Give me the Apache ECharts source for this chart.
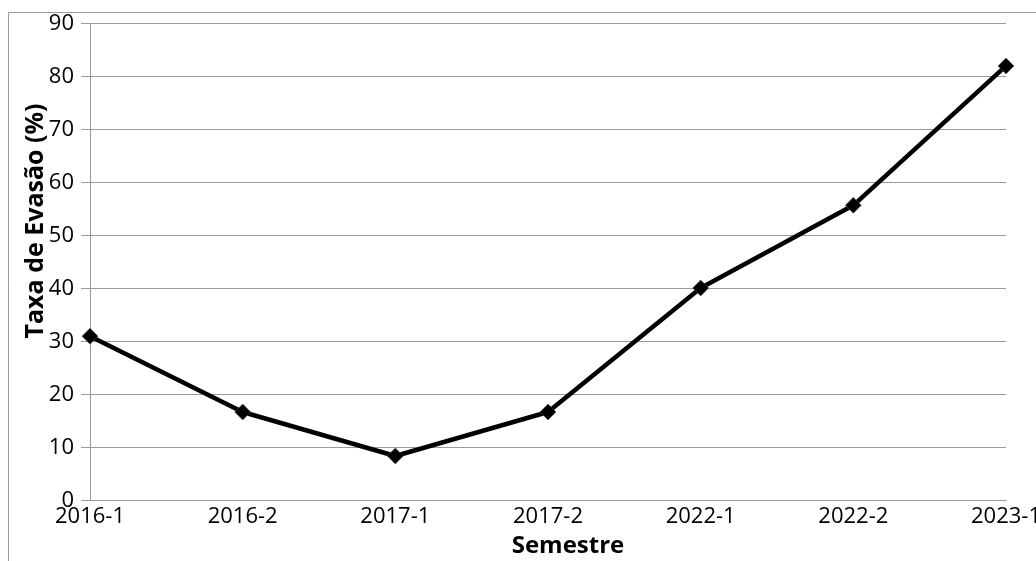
<!DOCTYPE html>
<html>
<head>
<meta charset="utf-8">
<script src="https://cdn.jsdelivr.net/npm/echarts@6/dist/echarts.min.js"></script>
<style>html,body{margin:0;padding:0;background:#fff}#c{width:1036px;height:561px}</style>
</head>
<body>
<div id="c"></div>
<script>
var categories = ['2016-1', '2016-2', '2017-1', '2017-2', '2022-1', '2022-2', '2023-1'];
var evasao = [31.0, 16.7, 8.4, 16.7, 40.1, 55.7, 82.0];
var yTicks = { min: 0, max: 90, interval: 10 };
var yTitle = 'Taxa de Evasão (%)';
var xTitle = 'Semestre';

var font = '"Open Sans", "Noto Sans", sans-serif';
var chart = echarts.init(document.getElementById('c'), null, { renderer: 'canvas' });
chart.setOption({
  animation: false,
  backgroundColor: '#fff',
  grid: { left: 90, right: 30, top: 23.5, bottom: 60.5, containLabel: false, outerBoundsMode: 'none' },
  graphic: [
    { type: 'rect', silent: true, z: -1, shape: { x: 8.5, y: 12.5, width: 1200, height: 700 },
      style: { fill: 'none', stroke: '#9a9a9a', lineWidth: 1 } },
    { type: 'text', x: 36, y: 221, rotation: Math.PI / 2,
      style: { text: yTitle, font: 'bold 25px ' + font, fill: '#000', align: 'center', verticalAlign: 'middle' } },
    { type: 'text', x: 568, y: 546,
      style: { text: xTitle, font: 'bold 24px ' + font, fill: '#000', align: 'center', verticalAlign: 'middle' } }
  ],
  xAxis: {
    type: 'category', data: categories, boundaryGap: false,
    axisLine: { lineStyle: { color: '#9a9a9a', width: 1 } },
    axisTick: { show: false },
    axisLabel: { color: '#000', fontSize: 22, fontFamily: font, margin: 5, interval: 0 },
    splitLine: { show: false }
  },
  yAxis: {
    type: 'value', min: yTicks.min, max: yTicks.max, interval: yTicks.interval,
    axisLine: { show: true, lineStyle: { color: '#9a9a9a', width: 1 } },
    axisTick: { show: true, length: 9, lineStyle: { color: '#9a9a9a' } },
    axisLabel: { color: '#000', fontSize: 22, fontFamily: font, margin: 16 },
    splitLine: { show: true, lineStyle: { color: '#9a9a9a', width: 1 } }
  },
  series: [{
    type: 'line', data: evasao,
    symbol: 'diamond', symbolSize: 16, showAllSymbol: true,
    lineStyle: { color: '#000', width: 4.5 },
    itemStyle: { color: '#000', borderColor: '#555', borderWidth: 0.5 }
  }]
});
</script>
</body>
</html>
